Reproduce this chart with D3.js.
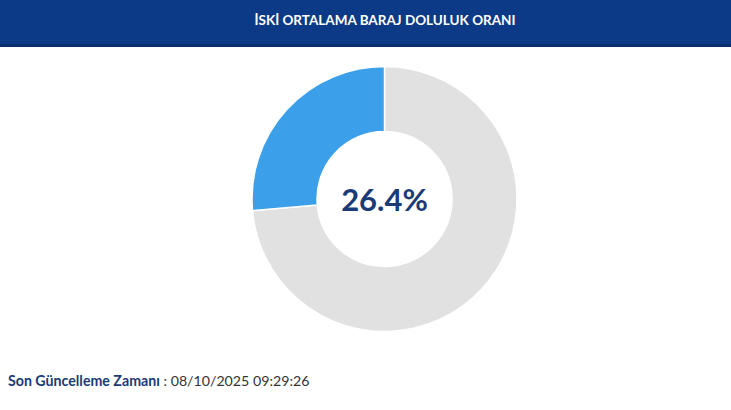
<!DOCTYPE html>
<html><head><meta charset="utf-8">
<script src="https://cdn.jsdelivr.net/npm/d3@7"></script>
<style>body{margin:0;background:#fff;overflow:hidden}svg{display:block}</style>
</head><body>
<script>
const title = "İSKİ ORTALAMA BARAJ DOLULUK ORANI";
const categories = ["Boş", "Dolu"];
const values = [73.6, 26.4];
const colors = ["#e1e1e1", "#3ba0e9"];
const centerLabel = "26.4%";
const footerLabel = "Son Güncelleme Zamanı";
const footerValue = " : 08/10/2025 09:29:26";

const W = 731, H = 410;
const svg = d3.select("body").append("svg").attr("width", W).attr("height", H);
svg.append("rect").attr("width", W).attr("height", H).attr("fill", "#fff");
svg.append("rect").attr("x", 0).attr("y", 0).attr("width", W).attr("height", 47).attr("fill", "#0d3a86");
svg.append("rect").attr("x", 0).attr("y", 44).attr("width", W).attr("height", 3).attr("fill", "#0a2f6e");
svg.append("text").attr("x", 385).attr("y", 25).attr("text-anchor", "middle")
  .attr("font-family", "Lato, sans-serif").attr("font-weight", 700).attr("font-size", 13.5)
  .attr("fill", "#fff").text(title);

const cx = 384.5, cy = 199, rO = 132.5, rI = 67.5;
const pie = d3.pie().sort(null).value(d => d);
const arc = d3.arc().innerRadius(rI).outerRadius(rO);
const g = svg.append("g").attr("transform", `translate(${cx},${cy})`);
g.selectAll("path").data(pie(values)).join("path")
  .attr("d", arc).attr("fill", (d, i) => colors[i])
  .attr("stroke", "#fff").attr("stroke-width", 1.5);
g.append("text").attr("text-anchor", "middle").attr("y", 12)
  .attr("font-family", "Lato, sans-serif").attr("font-weight", 700).attr("font-size", 31)
  .attr("fill", "#1b3a78").text(centerLabel);

const ft = svg.append("text").attr("x", 8).attr("y", 386)
  .attr("font-family", "Lato, sans-serif").attr("font-size", 14.2).attr("fill", "#1b3a78");
ft.append("tspan").attr("font-weight", 700).text(footerLabel);
ft.append("tspan").attr("font-weight", 400).attr("fill", "#333").text(footerValue);
</script>
</body></html>
